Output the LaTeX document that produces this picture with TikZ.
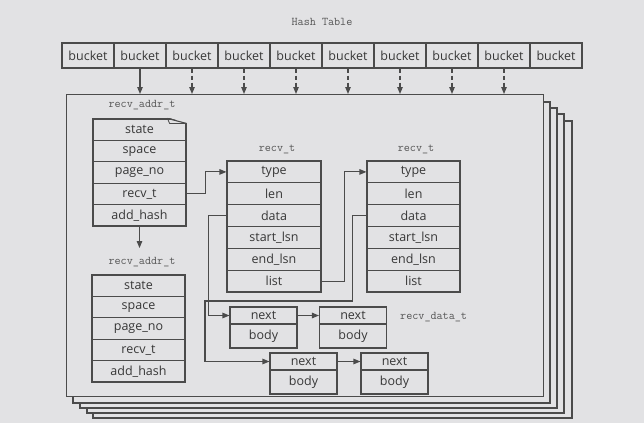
\documentclass[tikz,border=0pt]{standalone}
\usepackage{fontspec}
\setsansfont{Open Sans}
\usetikzlibrary{arrows.meta}
\definecolor{bg}{RGB}{226,226,228}
\definecolor{ln}{RGB}{75,75,75}
\definecolor{tx}{RGB}{55,55,55}
\begin{document}
\begin{tikzpicture}[x=1pt,y=-1pt,
  fld/.style={draw=ln, line width=1.1pt, fill=bg, inner sep=0pt,
    font=\sffamily\fontsize{12.5}{14}\selectfont, text=tx},
  lbl/.style={font=\ttfamily\fontsize{11.8}{13}\selectfont, text=tx!85, inner sep=1pt},
  frm/.style={draw=ln, line width=1.1pt, fill=bg},
  arr/.style={draw=ln, line width=1.1pt, -{Triangle[length=7pt,width=5.5pt]}},
  dsh/.style={dash pattern=on 4pt off 3pt}]
\fill[bg] (0,0) rectangle (644,423);
\useasboundingbox (0,0) rectangle (644,423);

% stacked frames (back to front)
\foreach \l/\t/\r/\b in {93/121/572/418, 87/114/564/413, 80/108/557/408, 73/102/550/403}
  \draw[frm] (\l,\t) rectangle (\r,\b);
\node[frm, inner sep=0pt, minimum width=477pt, minimum height=302pt, anchor=north west] (frame) at (66,94) {};

% hash table
\node[lbl] (ht) at (322,22) {Hash Table};
\foreach \i in {1,...,10}
  \node[fld, minimum width=52pt, minimum height=25pt] (b\i) at ({62+52*(\i-0.5)},55.5) {bucket};
\draw[arr] (b2.south) -- (b2.south |- frame.north);
\foreach \i in {3,...,9}
  \draw[arr, dsh] (b\i.south) -- (b\i.south |- frame.north);

% recv_addr_t #1
\node[lbl] (la) at (142,105) {recv\_addr\_t};
\foreach \t [count=\k] in {state,space,page\_no,recv\_t,add\_hash}
  \node[fld, minimum width=93pt, minimum height=21.4pt] (A\k) at (139.5,{119+21.4*(\k-0.5)}) {\t};
% folded corner
\fill[bg] ([xshift=-19pt,yshift=1.2pt]A1.north east) -- ([xshift=1.2pt,yshift=1.2pt]A1.north east) -- ([xshift=1.2pt,yshift=-5pt]A1.north east) -- cycle;
\draw[ln, line width=1.1pt, line join=round] ([xshift=-19pt]A1.north east) -- ([yshift=-5pt]A1.north east);
\draw[ln, line width=0.8pt, line join=round] ([xshift=-19pt]A1.north east) -- ([xshift=-17pt,yshift=-5pt]A1.north east) -- ([yshift=-5pt]A1.north east);

% recv_addr_t #2
\node[lbl] (lb) at (142,262) {recv\_addr\_t};
\foreach \t [count=\k] in {state,space,page\_no,recv\_t,add\_hash}
  \node[fld, minimum width=93pt, minimum height=21.4pt] (B\k) at (138.5,{275+21.4*(\k-0.5)}) {\t};
\draw[arr] (A5.south) -- ++(0,21.5);

% recv_t #1 and #2
\node[lbl] (lc) at (277,149) {recv\_t};
\node[lbl] (ld) at (416,149) {recv\_t};
\foreach \t [count=\k] in {type,len,data,start\_lsn,end\_lsn,list}
  \node[fld, minimum width=94pt, minimum height=21.83pt] (C\k) at (274,{161+21.83*(\k-0.5)}) {\t};
\foreach \t [count=\k] in {type,len,data,start\_lsn,end\_lsn,list}
  \node[fld, minimum width=93pt, minimum height=21.83pt] (D\k) at (413.5,{161+21.83*(\k-0.5)}) {\t};

% recv_data_t chains
\node[lbl, anchor=west] (le) at (399,317) {recv\_data\_t};
\foreach \n/\x in {P1/263.5, P2/353}{
  \node[fld, minimum width=67pt, minimum height=17pt] (\n) at (\x,315.5) {next};
  \node[fld, minimum width=67pt, minimum height=24pt] (\n b) at (\x,336) {body};
}
\foreach \n/\x in {Q1/303.5, Q2/394.5}{
  \node[fld, minimum width=67pt, minimum height=17pt] (\n) at (\x,361.5) {next};
  \node[fld, minimum width=67pt, minimum height=24pt] (\n b) at (\x,382) {body};
}
\draw[arr] (P1.east) -- (P2.west);
\draw[arr] (Q1.east) -- (Q2.west);

% pointers
\draw[arr] (A4.east) -- ++(19,0) |- (C1.west);
\draw[arr] (C6.east) -- ++(23,0) |- (D1.west);
\draw[arr] (C3.west) -- ++(-18,0) |- (P1.west);
\coordinate (turn) at (205,301);
\draw[arr] (D3.west) -- ++(-14,0) |- (turn) |- (Q1.west);
\end{tikzpicture}
\end{document}
